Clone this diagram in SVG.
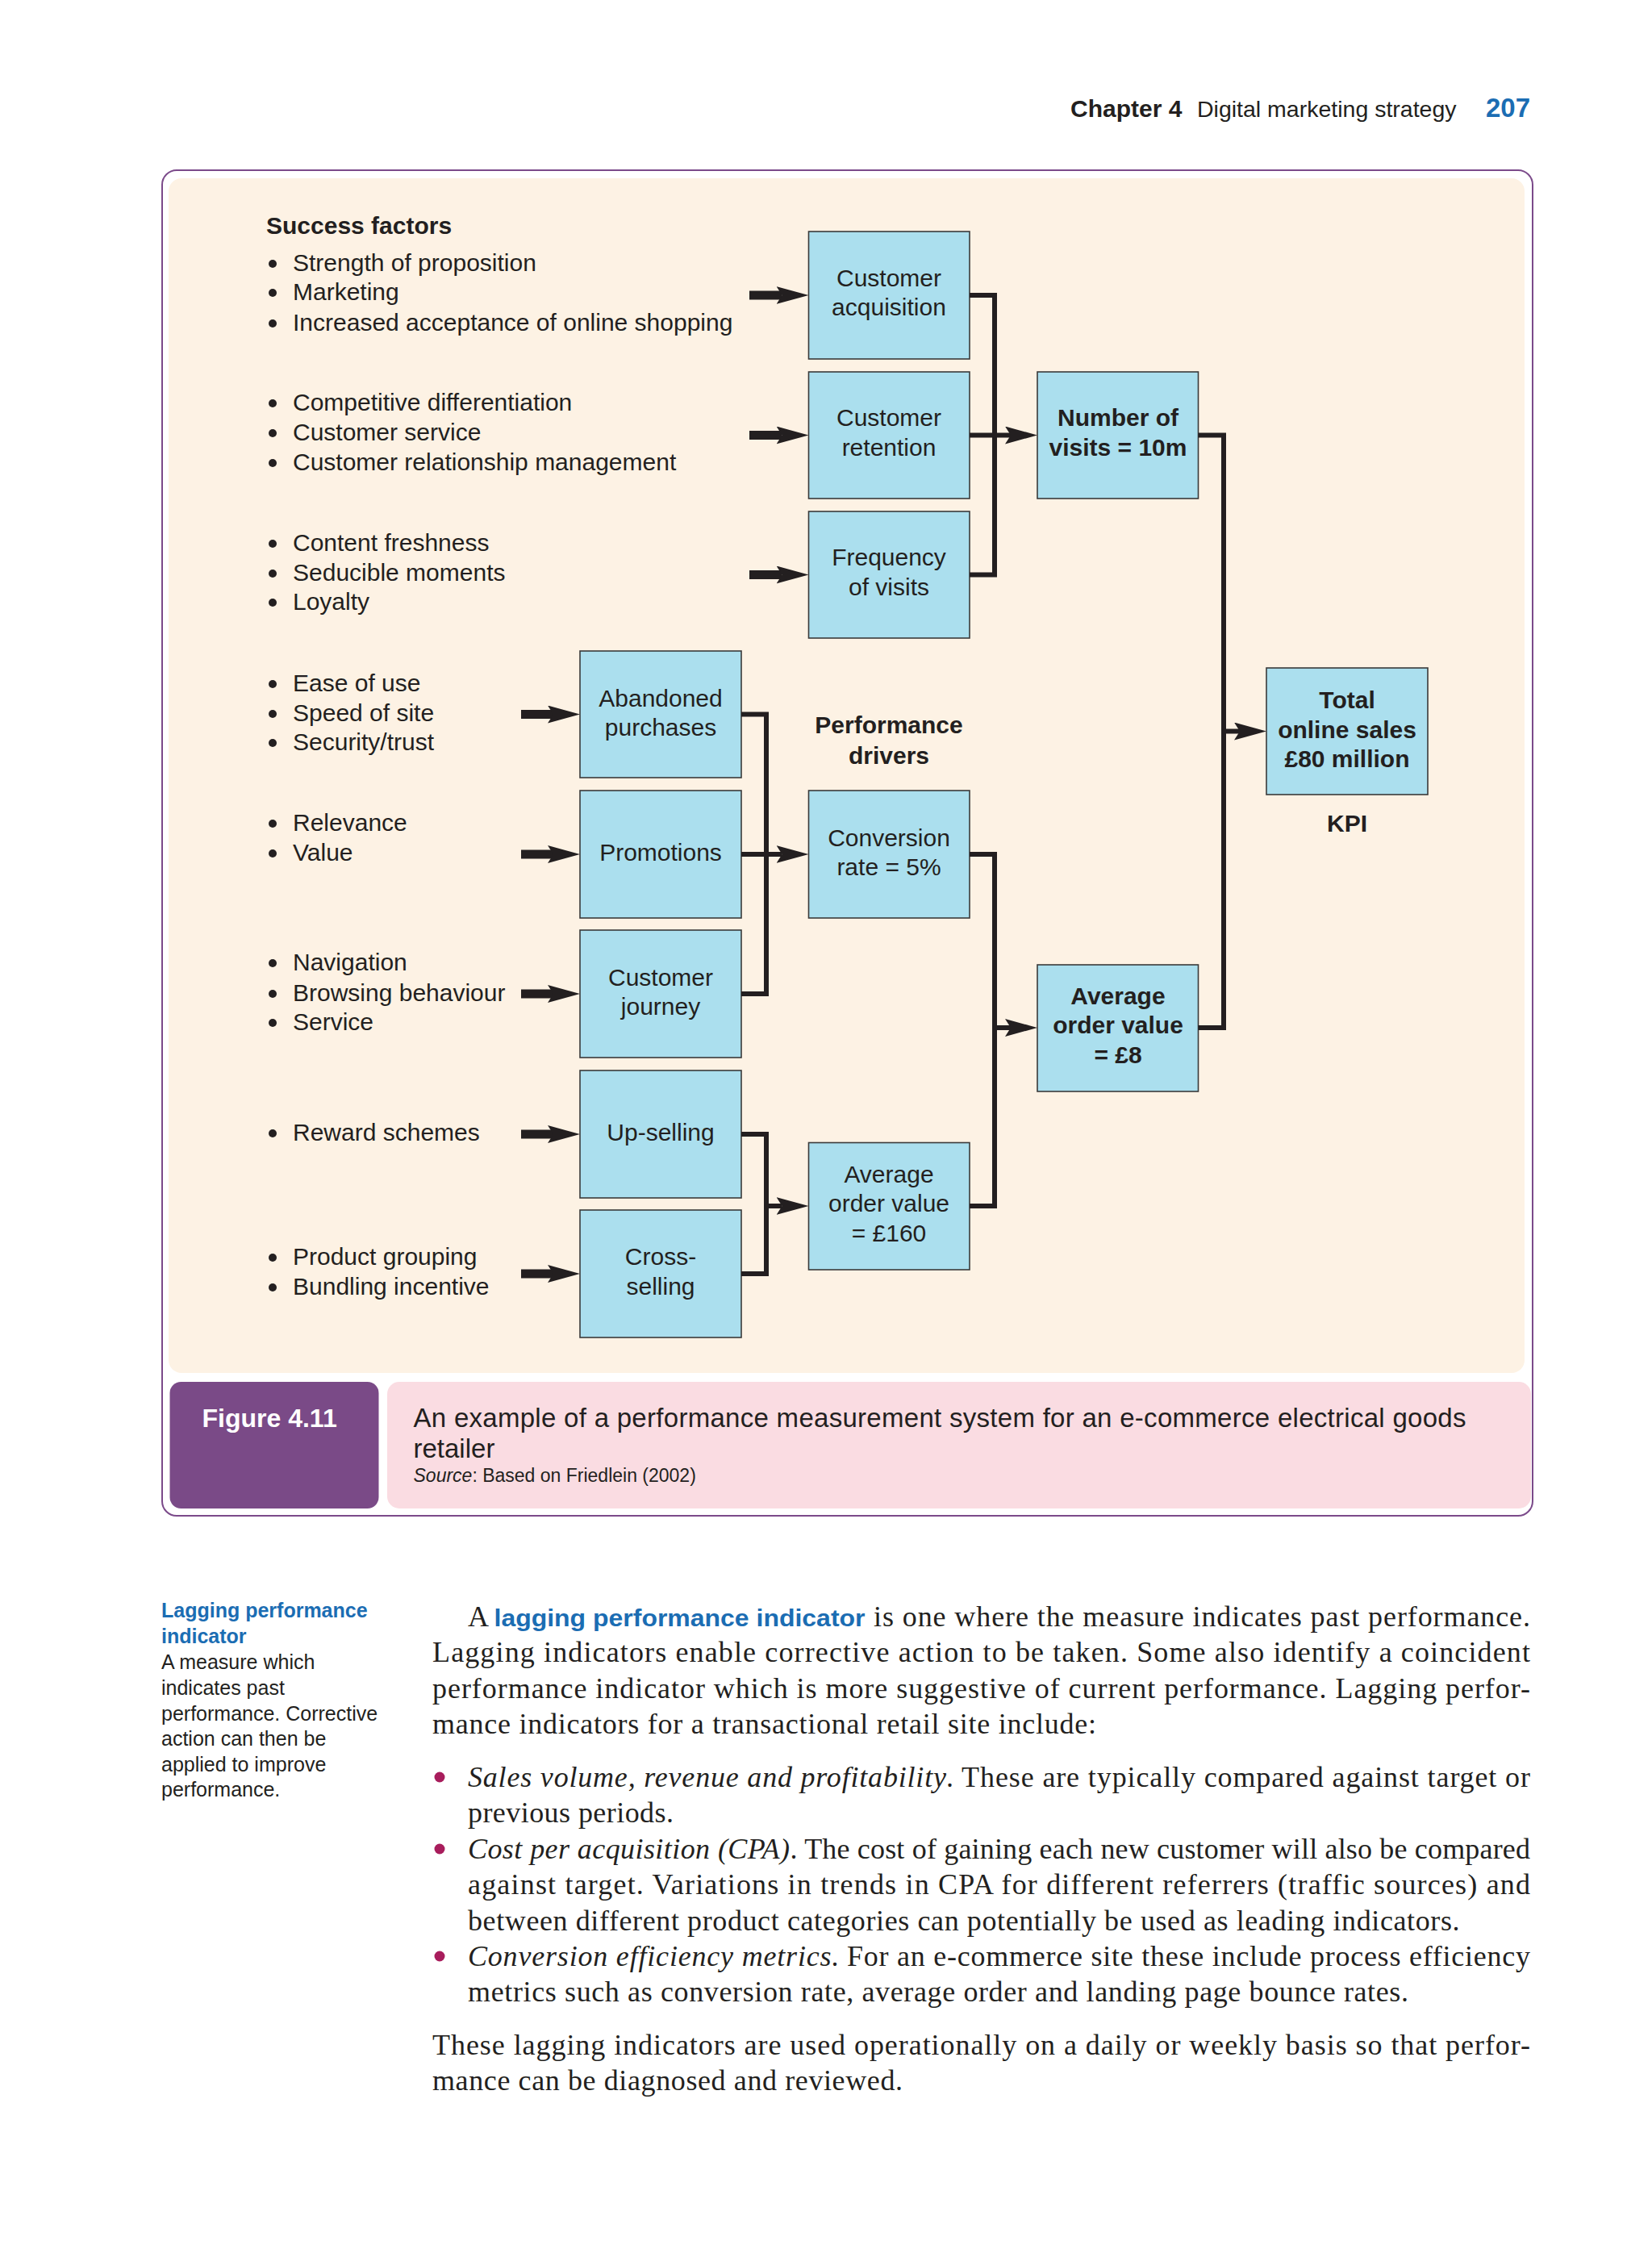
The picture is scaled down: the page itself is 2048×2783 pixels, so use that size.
<svg xmlns="http://www.w3.org/2000/svg" width="2048" height="2783" viewBox="0 0 2048 2783">
<style>
.t{font-family:"Liberation Sans",Arial,sans-serif;font-size:30px;fill:#231f20}
.b{font-weight:bold}
.c{text-anchor:middle}
.box{fill:#abdfee;stroke:#3a3a3a;stroke-width:1.6}
.bul{fill:#231f20}
.ln{fill:none;stroke:#231f20;stroke-width:6;stroke-linejoin:miter;stroke-linecap:butt}
.thk{fill:none;stroke:#231f20;stroke-width:11;marker-end:url(#ah)}
.arr{fill:none;stroke:#231f20;stroke-width:6;marker-end:url(#ah)}
.sr{font-family:"Liberation Serif","Times New Roman",serif;font-size:36px;fill:#231f20}
.it{font-style:italic}
.side{font-family:"Liberation Sans",Arial,sans-serif;font-size:25px;fill:#231f20}
.blue{fill:#1b6db3}
.dot{fill:#a81d5c}
</style>
<defs>
<marker id="ah" markerUnits="userSpaceOnUse" markerWidth="40" markerHeight="22" viewBox="0 0 40 22" refX="7" refY="11" orient="auto">
<path d="M0,0 L40,11 L0,22 L7,11 Z" fill="#231f20"/>
</marker>
</defs>
<rect x="0" y="0" width="2048" height="2783" fill="#ffffff"/>

<g id="header">
<text class="t b" x="1327" y="145" style="font-size:30px">Chapter 4</text>
<text class="t" x="1484" y="145" style="font-size:28.5px">Digital marketing strategy</text>
<text class="t b" x="1842" y="145" style="font-size:33px;fill:#1b6db3">207</text>
</g>

<g id="figure-frame">
<rect x="201" y="211" width="1699" height="1668" rx="18" fill="#ffffff" stroke="#7b4a8a" stroke-width="2"/>
<rect x="209" y="221" width="1681" height="1481" rx="16" fill="#fdf2e4"/>
</g>

<g id="success-factors">
<text class="t b" x="330" y="290">Success factors</text>
<circle class="bul" cx="338" cy="327" r="5"/><text class="t" x="363" y="336">Strength of proposition</text>
<circle class="bul" cx="338" cy="363" r="5"/><text class="t" x="363" y="372">Marketing</text>
<circle class="bul" cx="338" cy="401" r="5"/><text class="t" x="363" y="410">Increased acceptance of online shopping</text>
</g>
<g id="factors-2">
<circle class="bul" cx="338" cy="500" r="5"/><text class="t" x="363" y="509">Competitive differentiation</text>
<circle class="bul" cx="338" cy="537" r="5"/><text class="t" x="363" y="546">Customer service</text>
<circle class="bul" cx="338" cy="574" r="5"/><text class="t" x="363" y="583">Customer relationship management</text>
</g>
<g id="factors-3">
<circle class="bul" cx="338" cy="674" r="5"/><text class="t" x="363" y="683">Content freshness</text>
<circle class="bul" cx="338" cy="711" r="5"/><text class="t" x="363" y="720">Seducible moments</text>
<circle class="bul" cx="338" cy="747" r="5"/><text class="t" x="363" y="756">Loyalty</text>
</g>
<g id="factors-4">
<circle class="bul" cx="338" cy="848" r="5"/><text class="t" x="363" y="857">Ease of use</text>
<circle class="bul" cx="338" cy="885" r="5"/><text class="t" x="363" y="894">Speed of site</text>
<circle class="bul" cx="338" cy="921" r="5"/><text class="t" x="363" y="930">Security/trust</text>
</g>
<g id="factors-5">
<circle class="bul" cx="338" cy="1021" r="5"/><text class="t" x="363" y="1030">Relevance</text>
<circle class="bul" cx="338" cy="1058" r="5"/><text class="t" x="363" y="1067">Value</text>
</g>
<g id="factors-6">
<circle class="bul" cx="338" cy="1194" r="5"/><text class="t" x="363" y="1203">Navigation</text>
<circle class="bul" cx="338" cy="1232" r="5"/><text class="t" x="363" y="1241">Browsing behaviour</text>
<circle class="bul" cx="338" cy="1268" r="5"/><text class="t" x="363" y="1277">Service</text>
</g>
<g id="factors-7">
<circle class="bul" cx="338" cy="1405" r="5"/><text class="t" x="363" y="1414">Reward schemes</text>
</g>
<g id="factors-8">
<circle class="bul" cx="338" cy="1559" r="5"/><text class="t" x="363" y="1568">Product grouping</text>
<circle class="bul" cx="338" cy="1596" r="5"/><text class="t" x="363" y="1605">Bundling incentive</text>
</g>

<g id="customer-acquisition">
<rect class="box" x="1002.5" y="287" width="199.5" height="158"/>
<text class="t c" x="1102" y="354.5">Customer</text>
<text class="t c" x="1102" y="391">acquisition</text>
</g>
<g id="customer-retention">
<rect class="box" x="1002.5" y="461" width="199.5" height="157"/>
<text class="t c" x="1102" y="528">Customer</text>
<text class="t c" x="1102" y="564.5">retention</text>
</g>
<g id="frequency-of-visits">
<rect class="box" x="1002.5" y="634" width="199.5" height="157"/>
<text class="t c" x="1102" y="701">Frequency</text>
<text class="t c" x="1102" y="737.5">of visits</text>
</g>
<g id="number-of-visits">
<rect class="box" x="1286" y="461" width="199.5" height="157"/>
<text class="t b c" x="1386" y="528">Number of</text>
<text class="t b c" x="1386" y="564.5">visits = 10m</text>
</g>

<g id="abandoned-purchases">
<rect class="box" x="719" y="807" width="200" height="157"/>
<text class="t c" x="819" y="875.5">Abandoned</text>
<text class="t c" x="819" y="912">purchases</text>
</g>
<g id="promotions">
<rect class="box" x="719" y="980" width="200" height="158"/>
<text class="t c" x="819" y="1067">Promotions</text>
</g>
<g id="customer-journey">
<rect class="box" x="719" y="1153" width="200" height="158"/>
<text class="t c" x="819" y="1222">Customer</text>
<text class="t c" x="819" y="1258">journey</text>
</g>
<g id="up-selling">
<rect class="box" x="719" y="1327" width="200" height="158"/>
<text class="t c" x="819" y="1414">Up-selling</text>
</g>
<g id="cross-selling">
<rect class="box" x="719" y="1500" width="200" height="158"/>
<text class="t c" x="819" y="1568">Cross-</text>
<text class="t c" x="819" y="1605">selling</text>
</g>

<g id="performance-drivers-label">
<text class="t b c" x="1102" y="909">Performance</text>
<text class="t b c" x="1102" y="946.5">drivers</text>
</g>
<g id="conversion-rate">
<rect class="box" x="1002.5" y="980" width="199.5" height="158"/>
<text class="t c" x="1102" y="1049">Conversion</text>
<text class="t c" x="1102" y="1085">rate = 5%</text>
</g>
<g id="average-order-value-160">
<rect class="box" x="1002.5" y="1416.5" width="199.5" height="157.5"/>
<text class="t c" x="1102" y="1466">Average</text>
<text class="t c" x="1102" y="1502">order value</text>
<text class="t c" x="1102" y="1538.5">= £160</text>
</g>
<g id="average-order-value-8">
<rect class="box" x="1286" y="1196" width="199.5" height="157"/>
<text class="t b c" x="1386" y="1244.5">Average</text>
<text class="t b c" x="1386" y="1281">order value</text>
<text class="t b c" x="1386" y="1318">= £8</text>
</g>
<g id="total-online-sales">
<rect class="box" x="1570" y="828" width="200" height="157"/>
<text class="t b c" x="1670" y="878">Total</text>
<text class="t b c" x="1670" y="915">online sales</text>
<text class="t b c" x="1670" y="951">£80 million</text>
<text class="t b c" x="1670" y="1031">KPI</text>
</g>

<g id="connectors">
<path class="thk" d="M929,366 H969.5"/>
<path class="thk" d="M929,539.5 H969.5"/>
<path class="thk" d="M929,712.5 H969.5"/>
<path class="thk" d="M646,885.5 H686"/>
<path class="thk" d="M646,1059 H686"/>
<path class="thk" d="M646,1232 H686"/>
<path class="thk" d="M646,1406 H686"/>
<path class="thk" d="M646,1579 H686"/>
<path class="ln" d="M1202,366 H1233 V712.5 H1202"/>
<path class="arr" d="M1202,539.5 H1253"/>
<path class="ln" d="M1485.5,539.5 H1517 V1274 H1485.5"/>
<path class="arr" d="M1517,906.5 H1537"/>
<path class="ln" d="M919,885.5 H950 V1232 H919"/>
<path class="arr" d="M919,1059 H969.5"/>
<path class="ln" d="M919,1406 H950 V1579 H919"/>
<path class="arr" d="M950,1495 H969.5"/>
<path class="ln" d="M1202,1059 H1233 V1495 H1202"/>
<path class="arr" d="M1233,1274 H1253"/>
</g>

<g id="caption">
<rect x="210.5" y="1713" width="259" height="157" rx="14" fill="#7a4a87"/>
<rect x="480" y="1713" width="1418" height="157" rx="15" fill="#fadce2"/>
<text class="t b" x="250.5" y="1769" style="font-size:32px;fill:#ffffff">Figure 4.11</text>
<text class="t" x="512.5" y="1769" style="font-size:33px" textLength="1305" lengthAdjust="spacing">An example of a performance measurement system for an e-commerce electrical goods</text>
<text class="t" x="512.5" y="1806.5" style="font-size:33px">retailer</text>
<text class="t" x="512.5" y="1837" style="font-size:23px"><tspan class="it">Source</tspan>: Based on Friedlein (2002)</text>
</g>

<g id="margin-note">
<text class="side b" x="200" y="2005" style="fill:#1b6db3">Lagging performance</text>
<text class="side b" x="200" y="2037" style="fill:#1b6db3">indicator</text>
<text class="side" x="200" y="2069">A measure which</text>
<text class="side" x="200" y="2101">indicates past</text>
<text class="side" x="200" y="2133">performance. Corrective</text>
<text class="side" x="200" y="2164">action can then be</text>
<text class="side" x="200" y="2196">applied to improve</text>
<text class="side" x="200" y="2227">performance.</text>
</g>

<g id="body-text">
<text class="sr" x="580" y="2015.5">A</text>
<text class="t b" x="612.5" y="2015.5" style="fill:#1b6db3" textLength="460" lengthAdjust="spacingAndGlyphs">lagging performance indicator</text>
<text class="sr" x="1083" y="2015.5" textLength="814" lengthAdjust="spacing">is one where the measure indicates past performance.</text>
<text class="sr" x="536" y="2060" textLength="1361" lengthAdjust="spacing">Lagging indicators enable corrective action to be taken. Some also identify a coincident</text>
<text class="sr" x="536" y="2105" textLength="1361" lengthAdjust="spacing">performance indicator which is more suggestive of current performance. Lagging perfor-</text>
<text class="sr" x="536" y="2148.5" textLength="823" lengthAdjust="spacing">mance indicators for a transactional retail site include:</text>

<circle class="dot" cx="545" cy="2203" r="6.5"/>
<text class="sr it" x="580" y="2214.5" textLength="593" lengthAdjust="spacing">Sales volume, revenue and profitability</text>
<text class="sr" x="1173" y="2214.5" textLength="724" lengthAdjust="spacing">. These are typically compared against target or</text>
<text class="sr" x="580" y="2259" textLength="255" lengthAdjust="spacing">previous periods.</text>

<circle class="dot" cx="545" cy="2292" r="6.5"/>
<text class="sr it" x="580" y="2303.5" textLength="399" lengthAdjust="spacing">Cost per acquisition (CPA)</text>
<text class="sr" x="979.5" y="2303.5" textLength="917.5" lengthAdjust="spacing">. The cost of gaining each new customer will also be compared</text>
<text class="sr" x="580" y="2348" textLength="1317" lengthAdjust="spacing">against target. Variations in trends in CPA for different referrers (traffic sources) and</text>
<text class="sr" x="580" y="2393" textLength="1229.5" lengthAdjust="spacing">between different product categories can potentially be used as leading indicators.</text>

<circle class="dot" cx="545" cy="2425" r="6.5"/>
<text class="sr it" x="580" y="2436.5" textLength="450.5" lengthAdjust="spacing">Conversion efficiency metrics</text>
<text class="sr" x="1030.5" y="2436.5" textLength="866.5" lengthAdjust="spacing">. For an e-commerce site these include process efficiency</text>
<text class="sr" x="580" y="2481" textLength="1166" lengthAdjust="spacing">metrics such as conversion rate, average order and landing page bounce rates.</text>

<text class="sr" x="536" y="2547" textLength="1361" lengthAdjust="spacing">These lagging indicators are used operationally on a daily or weekly basis so that perfor-</text>
<text class="sr" x="536" y="2591" textLength="583" lengthAdjust="spacing">mance can be diagnosed and reviewed.</text>
</g>
</svg>
